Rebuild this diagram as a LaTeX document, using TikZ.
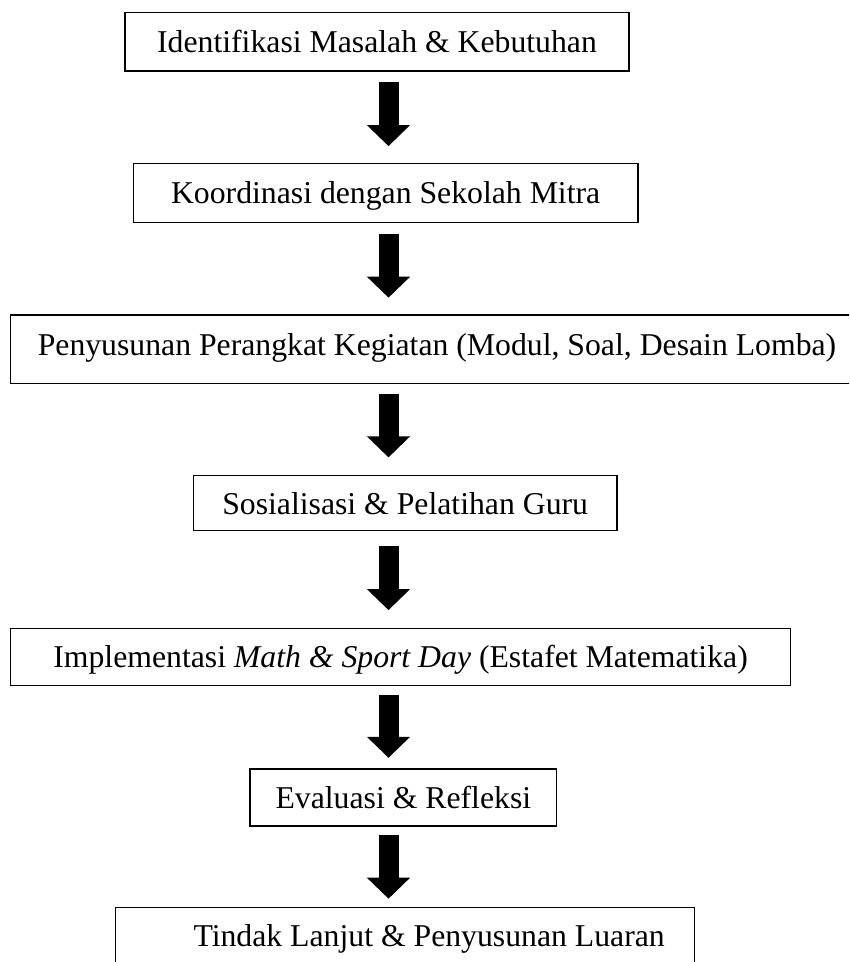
\documentclass[tikz,border=0pt]{standalone}
\usepackage{fontspec}
\setmainfont{Liberation Serif}
\usetikzlibrary{calc,arrows.meta}
\begin{document}
\begin{tikzpicture}[x=0.75pt,y=-0.75pt,
  stepbox/.style={draw=black, line width=0.9pt, inner sep=0pt,
    font=\fontsize{23.8pt}{28pt}\selectfont, text height=16.2pt, text depth=0pt},
  bigarrow/.style={line width=15pt, draw=black,
    -{Triangle[width=31.5pt,length=15.75pt]}}]
\useasboundingbox (0,0) rectangle (849,962);
\clip (0,0) rectangle (849,962);
\coordinate (ax) at (388.5,0);

\node[stepbox, minimum width=504*0.75pt, minimum height=58.7*0.75pt] (b1) at (377,41.65)
  {Identifikasi Masalah \& Kebutuhan};
\node[stepbox, minimum width=504.7*0.75pt, minimum height=59.4*0.75pt] (b2) at (385.65,193)
  {Koordinasi dengan Sekolah Mitra};
\node[stepbox, text depth=7.4pt, minimum width=852.6*0.75pt, minimum height=68.3*0.75pt] (b3) at (437,349.15)
  {Penyusunan Perangkat Kegiatan (Modul, Soal, Desain Lomba)};
\node[stepbox, minimum width=423.7*0.75pt, minimum height=55*0.75pt] (b4) at (405.15,503.2)
  {Sosialisasi \& Pelatihan Guru};
\node[stepbox, minimum width=780*0.75pt, minimum height=57.4*0.75pt] (b5) at (400.55,657)
  {Implementasi \textit{Math \& Sport Day} (Estafet Matematika)};
\node[stepbox, minimum width=306.7*0.75pt, minimum height=57*0.75pt] (b6) at (403.35,797.5)
  {Evaluasi \& Refleksi};
\node[stepbox, minimum width=579.3*0.75pt, minimum height=56.4*0.75pt] (b7) at (405.15,935.9)
  {\hspace*{36pt}Tindak Lanjut \& Penyusunan Luaran};

\draw[bigarrow] ($(b1.south -| ax)+(0,10.7)$) -- ($(b2.north -| ax)+(0,-16.6)$);
\draw[bigarrow] ($(b2.south -| ax)+(0,10.6)$) -- ($(b3.north -| ax)+(0,-16.7)$);
\draw[bigarrow] ($(b3.south -| ax)+(0,10)$) -- ($(b4.north -| ax)+(0,-17.7)$);
\draw[bigarrow] ($(b4.south -| ax)+(0,14.3)$) -- ($(b5.north -| ax)+(0,-17.6)$);
\draw[bigarrow] ($(b5.south -| ax)+(0,8.3)$) -- ($(b6.north -| ax)+(0,-10.6)$);
\draw[bigarrow] ($(b6.south -| ax)+(0,8)$) -- ($(b7.north -| ax)+(0,-8.4)$);
\end{tikzpicture}
\end{document}
